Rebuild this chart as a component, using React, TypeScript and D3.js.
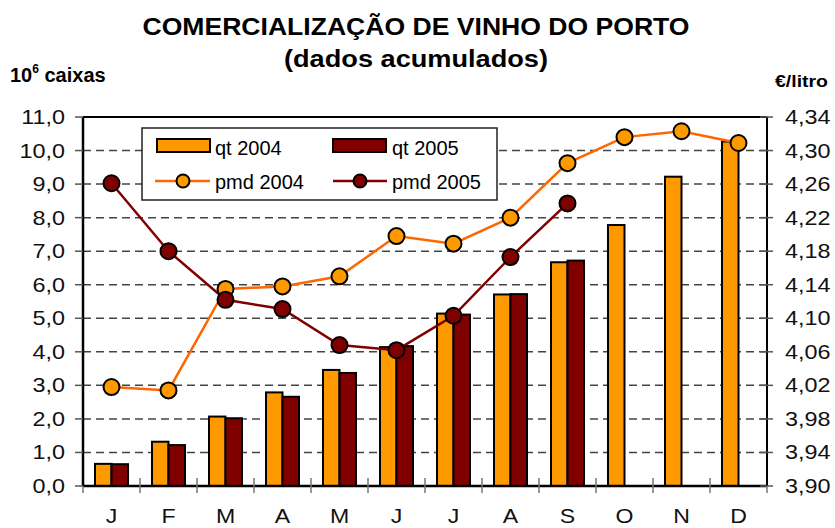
import * as d3 from "d3";
import React from "react";

const months = ["J", "F", "M", "A", "M", "J", "J", "A", "S", "O", "N", "D"];
const qt2004 = [0.66, 1.32, 2.07, 2.79, 3.46, 4.14, 5.14, 5.71, 6.67, 7.78, 9.22, 10.27];
const qt2005 = [0.65, 1.22, 2.02, 2.66, 3.37, 4.17, 5.11, 5.72, 6.72];
const pmd2004 = [4.018, 4.014, 4.135, 4.138, 4.15, 4.198, 4.189, 4.22, 4.285, 4.316, 4.323, 4.309];
const pmd2005 = [4.261, 4.18, 4.122, 4.111, 4.068, 4.062, 4.103, 4.173, 4.237];
const leftTicks = d3.range(0, 11.01, 1);
const rightTicks = d3.range(3.9, 4.341, 0.04);

const W = 835;
const H = 528;
const left = 83;
const right = 767;
const top = 117;
const bottom = 486;

const orange = "#FF9900";
const maroon = "#800000";
const orangeLine = "#FF6600";

const fmt1 = (v: number) => v.toFixed(1).replace(".", ",");
const fmt2 = (v: number) => v.toFixed(2).replace(".", ",");

export default function App() {
  const x = d3.scaleBand<number>().domain(d3.range(12)).range([left, right]).padding(0);
  const xSub = d3.scaleBand<string>().domain(["a", "b"]).range([12, x.bandwidth() - 12]);
  const yL = d3.scaleLinear().domain([0, 11]).range([bottom, top]);
  const yR = d3.scaleLinear().domain([3.9, 4.34]).range([bottom, top]);
  const cx = (i: number) => (x(i) ?? 0) + x.bandwidth() / 2;

  const line = d3
    .line<number>()
    .x((_, i) => cx(i))
    .y((d) => yR(d));

  return (
    <div style={{ position: "absolute", left: 0, top: 0 }}>
      <svg width={W} height={H} style={{ display: "block", fontFamily: "'Liberation Sans', Arial, sans-serif" }}>
        <rect width={W} height={H} fill="#fff" />

        {/* titles */}
        <text x={416} y={35} textAnchor="middle" fontWeight="bold" fontSize={23} textLength={547} lengthAdjust="spacingAndGlyphs">
          COMERCIALIZAÇÃO DE VINHO DO PORTO
        </text>
        <text x={416} y={67} textAnchor="middle" fontWeight="bold" fontSize={23} textLength={264} lengthAdjust="spacingAndGlyphs">
          (dados acumulados)
        </text>
        <text x={10} y={82} fontWeight="bold" fontSize={20}>
          10<tspan fontSize={12} dy={-9}>6</tspan>
          <tspan dy={9}> caixas</tspan>
        </text>
        <text x={775} y={87} fontWeight="bold" fontSize={17} textLength={53} lengthAdjust="spacingAndGlyphs">
          €/litro
        </text>

        {/* grid */}
        {leftTicks.slice(1, -1).map((t) => (
          <line key={t} x1={left} x2={right} y1={yL(t)} y2={yL(t)} stroke="#444" strokeWidth={1.5} strokeDasharray="8,5" />
        ))}

        {/* bars */}
        {qt2004.map((v, i) => (
          <rect key={"a" + i} x={(x(i) ?? 0) + (xSub("a") ?? 0)} y={yL(v)} width={xSub.bandwidth()} height={bottom - yL(v)} fill={orange} stroke="#000" strokeWidth={2} />
        ))}
        {qt2005.map((v, i) => (
          <rect key={"b" + i} x={(x(i) ?? 0) + (xSub("b") ?? 0)} y={yL(v)} width={xSub.bandwidth()} height={bottom - yL(v)} fill={maroon} stroke="#000" strokeWidth={2} />
        ))}

        {/* frame */}
        <line x1={left} x2={right} y1={top} y2={top} stroke="#000" strokeWidth={2} />
        <line x1={right} x2={right} y1={top} y2={bottom} stroke="#000" strokeWidth={2} />
        <line x1={left} x2={left} y1={top} y2={bottom} stroke="#000" strokeWidth={2.5} />
        <line x1={left} x2={right} y1={bottom} y2={bottom} stroke="#000" strokeWidth={2.5} />

        {/* left axis */}
        {leftTicks.map((t) => (
          <g key={t}>
            <line x1={75} x2={left} y1={yL(t)} y2={yL(t)} stroke="#555" strokeWidth={1.5} />
            <g transform={`translate(65,${yL(t) + 7}) scale(1.17,1)`}>
              <text textAnchor="end" fontSize={20} fill="#111">
                {fmt1(t)}
              </text>
            </g>
          </g>
        ))}

        {/* right axis */}
        {rightTicks.map((t) => (
          <g key={t}>
            <line x1={760} x2={773} y1={yR(t)} y2={yR(t)} stroke="#555" strokeWidth={1.5} />
            <g transform={`translate(785,${yR(t) + 7}) scale(1.17,1)`}>
              <text fontSize={20} fill="#111">
                {fmt2(t)}
              </text>
            </g>
          </g>
        ))}

        {/* x axis */}
        {d3.range(13).map((k) => {
          const xx = left + k * x.step();
          return <line key={k} x1={xx} x2={xx} y1={k === 0 || k === 12 ? bottom : 478} y2={493} stroke="#777" strokeWidth={1.5} />;
        })}
        {months.map((m, i) => (
          <g key={i} transform={`translate(${cx(i)},523) scale(1.1,1)`}>
            <text textAnchor="middle" fontSize={21} fill="#111">
              {m}
            </text>
          </g>
        ))}

        {/* lines */}
        <path d={line(pmd2004) ?? ""} fill="none" stroke={orangeLine} strokeWidth={2.5} />
        <path d={line(pmd2005) ?? ""} fill="none" stroke={maroon} strokeWidth={2.5} />
        {pmd2004.map((v, i) => (
          <circle key={"p" + i} cx={cx(i)} cy={yR(v)} r={8} fill={orange} stroke="#000" strokeWidth={2} />
        ))}
        {pmd2005.map((v, i) => (
          <circle key={"q" + i} cx={cx(i)} cy={yR(v)} r={8} fill={maroon} stroke="#000" strokeWidth={2} />
        ))}

        {/* legend */}
        <g>
          <rect x={142} y={128} width={355} height={72} fill="#fff" stroke="#222" strokeWidth={1.5} />
          <rect x={157} y={139} width={53} height={13} fill={orange} stroke="#000" strokeWidth={2} />
          <text x={215} y={155} fontSize={20}>qt 2004</text>
          <rect x={333} y={139} width={53} height={13} fill={maroon} stroke="#000" strokeWidth={2} />
          <text x={392} y={155} fontSize={20}>qt 2005</text>
          <line x1={155} x2={210} y1={181} y2={181} stroke={orangeLine} strokeWidth={2.5} />
          <circle cx={183} cy={181} r={6.5} fill={orange} stroke="#000" strokeWidth={2} />
          <text x={215} y={189} fontSize={20}>pmd 2004</text>
          <line x1={333} x2={387} y1={181} y2={181} stroke={maroon} strokeWidth={2.5} />
          <circle cx={360} cy={181} r={6.5} fill={maroon} stroke="#000" strokeWidth={2} />
          <text x={392} y={189} fontSize={20}>pmd 2005</text>
        </g>
      </svg>
    </div>
  );
}
